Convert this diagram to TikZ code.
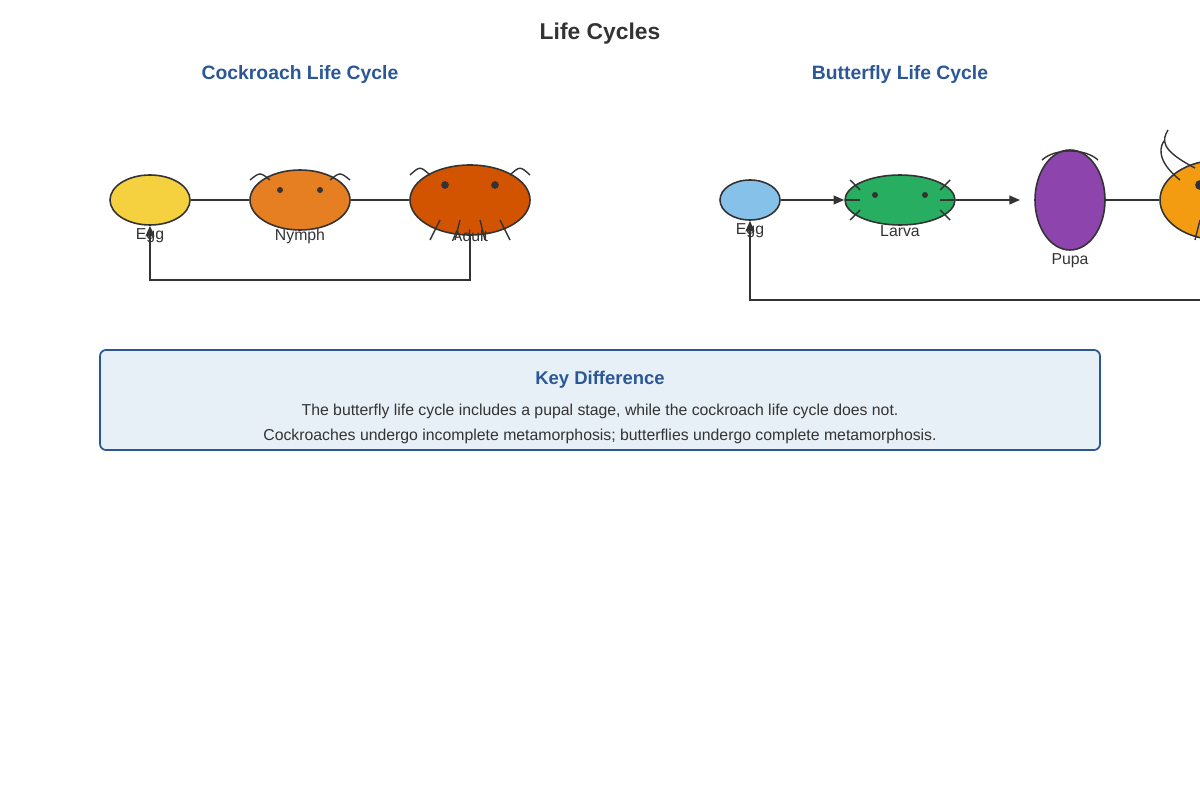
\documentclass[tikz,border=0pt]{standalone}
\usepackage{fontspec}
\setmainfont{Liberation Sans}
\usetikzlibrary{arrows.meta,shapes.geometric}
\definecolor{ink}{HTML}{333333}
\definecolor{headblue}{HTML}{2B5797}
\definecolor{boxfill}{HTML}{E8F0F7}
\def\px{0.02cm}
\begin{document}
\begin{tikzpicture}[x=0.02cm, y=-0.02cm, font=\sffamily,
	body/.style 2 args={draw=ink, line width=0.9pt, ellipse, inner sep=0pt, minimum width=#1*\px, minimum height=#2*\px},
	leg/.style={draw=ink, line width=0.8pt},
	eye/.style={fill=ink},
	lbl/.style={text=ink, font=\fontsize{9}{10}\selectfont},
	link/.style={draw=ink, line width=0.8pt},
	head/.style={text=headblue, font=\fontsize{11}{12}\selectfont\bfseries}]
	\useasboundingbox (0,0) rectangle (1200,800);
	\clip (0,0) rectangle (1200,800);
	%titles
	\node[text=ink, font=\fontsize{13}{14}\selectfont\bfseries] (title) at (600,34) {Life Cycles};
	\node[head] (roachtitle) at (300,75) {Cockroach Life Cycle};
	\node[head] (flytitle) at (900,75) {Butterfly Life Cycle};
	%cockroach
	\node[body={80}{50}, fill={rgb,255:red,245;green,208;blue,63}] (regg) at (150,200) {};
	\node[body={100}{60}, fill={rgb,255:red,230;green,126;blue,34}] (rnymph) at (300,200) {};
	\node[body={120}{70}, fill={rgb,255:red,211;green,84;blue,0}] (radult) at (470,200) {};
	\draw[link] (regg) -- (rnymph);
	\draw[link] (rnymph) -- (radult);
	\foreach \x in {280,320} \fill[eye] (\x,190) circle (1.7pt);
	\draw[leg] (250,180) .. controls (260,172) .. (270,180) (330,180) .. controls (340,172) .. (350,180);
	\foreach \x in {445,495} \fill[eye] (\x,185) circle (2.2pt);
	\draw[leg] (410,175) .. controls (420,166) .. (430,175) (510,175) .. controls (520,166) .. (530,175);
	\foreach \a/\b in {440/430,460/455,480/485,500/510} \draw[leg] (\a,220) -- (\b,240);
	\node[lbl] (reggl) at (150,236) {Egg};
	\node[lbl] (rnymphl) at (300,236) {Nymph};
	\node[lbl] (radultl) at (470,236) {Adult};
	\draw[link, -{Triangle[length=6pt,width=5pt]}] (radult.south) -- (470,280) -- (150,280) -- (regg.south);
	%butterfly
	\node[body={60}{40}, fill={rgb,255:red,133;green,193;blue,233}] (fegg) at (750,200) {};
	\node[body={110}{50}, fill={rgb,255:red,39;green,174;blue,96}] (flarva) at (900,200) {};
	\node[body={70}{100}, fill={rgb,255:red,142;green,68;blue,173}] (fpupa) at (1070,200) {};
	\node[body={120}{80}, fill={rgb,255:red,243;green,156;blue,18}] (fadult) at (1220,200) {};
	\draw[link, -{Triangle[length=6pt,width=5pt]}] (fegg) -- (flarva);
	\coordinate (pupain) at (1020,200);
	\draw[link, -{Triangle[length=6pt,width=5pt]}] (flarva) -- (pupain);
	\draw[link] (fpupa) -- (fadult);
	\foreach \x in {875,925} \fill[eye] (\x,195) circle (1.7pt);
	\draw[leg] (845,200) -- (860,200) (940,200) -- (955,200);
	\draw[leg] (850,180) -- (860,190) (850,220) -- (860,210) (950,180) -- (940,190) (950,220) -- (940,210);
	\draw[leg] (1042,160) .. controls (1055,148) and (1085,148) .. (1098,160);
	\fill[eye] (1200,185) circle (2.8pt);
	\draw[leg] (1180,180) .. controls (1155,160) and (1160,145) .. (1165,140) (1195,168) .. controls (1160,150) and (1162,140) .. (1168,130);
	\draw[leg] (1200,220) -- (1195,240);
	\node[lbl] (feggl) at (750,231) {Egg};
	\node[lbl] (flarval) at (900,231) {Larva};
	\node[lbl] (fpupal) at (1070,261) {Pupa};
	\draw[link, -{Triangle[length=6pt,width=5pt]}] (1210,300) -- (750,300) -- (fegg.south);
	%key difference
	\draw[draw=headblue, fill=boxfill, line width=1pt, rounded corners=3.4pt] (100,350) rectangle (1100,450);
	\node[head, font=\fontsize{10.5}{12}\selectfont\bfseries] (keyhead) at (600,380) {Key Difference};
	\node[lbl] (keyone) at (600,411) {The butterfly life cycle includes a pupal stage, while the cockroach life cycle does not.};
	\node[lbl] (keytwo) at (600,436) {Cockroaches undergo incomplete metamorphosis; butterflies undergo complete metamorphosis.};
\end{tikzpicture}
\end{document}
